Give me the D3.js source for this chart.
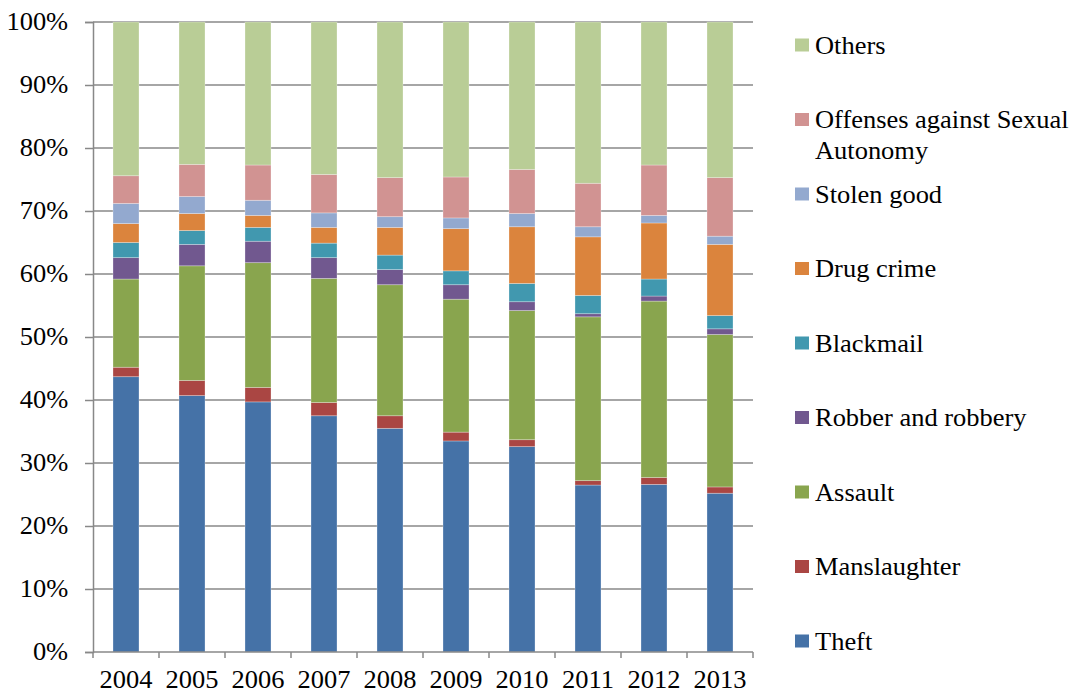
<!DOCTYPE html>
<html>
<head>
<meta charset="utf-8">
<script src="https://cdn.jsdelivr.net/npm/d3@7"></script>
<style>
  html, body { margin: 0; padding: 0; background: #fff; }
  svg text { font-family: "Liberation Serif", "Times New Roman", serif; fill: #000; }
</style>
</head>
<body>
<svg id="chart" width="1075" height="695"></svg>
<script>
// Share of criminal cases by offense type, per year (percent)
const years = ["2004","2005","2006","2007","2008","2009","2010","2011","2012","2013"];
const seriesNames = ["Theft","Manslaughter","Assault","Robber and robbery","Blackmail","Drug crime","Stolen good","Offenses against Sexual Autonomy","Others"];
const seriesColors = ["#4572A7","#AA4643","#89A54E","#71588F","#4198AF","#DB843D","#93A9CF","#D19392","#B9CD96"];

const theft        = [43.7, 40.7, 39.7, 37.5, 35.5, 33.5, 32.6, 26.5, 26.6, 25.2];
const manslaughter = [ 1.5,  2.4,  2.3,  2.1,  2.0,  1.4,  1.1,  0.7,  1.1,  1.0];
const assault      = [14.0, 18.2, 19.8, 19.7, 20.8, 21.1, 20.5, 26.0, 28.0, 24.2];
const robbery      = [ 3.4,  3.4,  3.4,  3.3,  2.4,  2.3,  1.4,  0.5,  0.8,  0.9];
const blackmail    = [ 2.4,  2.2,  2.2,  2.3,  2.3,  2.2,  2.9,  2.9,  2.7,  2.1];
const drugCrime    = [ 3.0,  2.7,  1.9,  2.5,  4.4,  6.7,  9.0,  9.3,  8.9, 11.3];
const stolenGood   = [ 3.2,  2.7,  2.4,  2.3,  1.7,  1.7,  2.1,  1.6,  1.2,  1.3];
const sexualOffense= [ 4.4,  5.1,  5.6,  6.1,  6.2,  6.5,  7.0,  6.9,  8.0,  9.3];
const others       = [24.4, 22.6, 22.7, 24.2, 24.7, 24.6, 23.4, 25.6, 22.7, 24.7];

const yTicks = [0,10,20,30,40,50,60,70,80,90,100];

const seriesValues = [theft, manslaughter, assault, robbery, blackmail, drugCrime, stolenGood, sexualOffense, others];

// rows for d3.stack, normalised to 100%
const rows = years.map((yr, i) => {
  const row = { year: yr };
  let total = 0;
  seriesValues.forEach(v => total += v[i]);
  seriesNames.forEach((n, k) => row[n] = seriesValues[k][i] / total * 100);
  return row;
});

const svg = d3.select("#chart");
const plotLeft = 93, plotRight = 753, plotTop = 22, plotBottom = 652;
const fontSize = 24.5, stretch = 1.08;   // slightly widened serif text
const serif = "'Liberation Serif', 'Times New Roman', serif";

const x = d3.scaleBand().domain(years).range([plotLeft, plotRight]).paddingInner(0.606).paddingOuter(0.303);
const xOuter = d3.scaleBand().domain(years).range([plotLeft, plotRight]);
const y = d3.scaleLinear().domain([0, 100]).range([plotBottom, plotTop]);

// horizontal gridlines
svg.append("g").selectAll("line").data(yTicks.filter(t => t > 0)).join("line")
  .attr("x1", plotLeft).attr("x2", plotRight)
  .attr("y1", d => y(d)).attr("y2", d => y(d))
  .attr("stroke", "#888").attr("stroke-width", 1.5);

// stacked bars
const stacked = d3.stack().keys(seriesNames)(rows);
svg.append("g").selectAll("g").data(stacked).join("g")
  .attr("fill", (d, i) => seriesColors[i])
  .selectAll("rect").data(d => d).join("rect")
  .attr("x", d => x(d.data.year))
  .attr("width", x.bandwidth())
  .attr("y", d => y(d[1]))
  .attr("height", d => y(d[0]) - y(d[1]))
  .attr("stroke", "rgba(255,255,255,0.35)")
  .attr("stroke-width", 0.8);

// y axis
const yAxis = svg.append("g").attr("transform", `translate(${plotLeft},0)`)
  .call(d3.axisLeft(y).tickValues(yTicks).tickSize(8).tickFormat(d => d + "%").tickPadding(15));
yAxis.attr("font-family", serif).attr("font-size", fontSize);
yAxis.select(".domain").attr("stroke", "#888").attr("stroke-width", 1.5);
yAxis.selectAll(".tick line").attr("stroke", "#888").attr("stroke-width", 1.5);
yAxis.selectAll(".tick text").attr("fill", "#000").attr("transform", `scale(${stretch},1)`);

// x axis line and category boundary ticks
svg.append("line").attr("x1", plotLeft).attr("x2", plotRight).attr("y1", plotBottom).attr("y2", plotBottom)
  .attr("stroke", "#888").attr("stroke-width", 1.5);
const boundaries = years.map(yv => xOuter(yv)).concat([plotRight]);
svg.append("g").selectAll("line").data(boundaries).join("line")
  .attr("x1", d => d).attr("x2", d => d)
  .attr("y1", plotBottom).attr("y2", plotBottom + 6)
  .attr("stroke", "#888").attr("stroke-width", 1.5);
svg.append("g").selectAll("text").data(years).join("text")
  .attr("transform", d => `translate(${x(d) + x.bandwidth() / 2},688) scale(${stretch},1)`)
  .attr("text-anchor", "middle")
  .attr("font-family", serif)
  .attr("font-size", fontSize)
  .text(d => d);

// legend, top to bottom in reverse stacking order
const legendItems = seriesNames.map((n, i) => ({ name: n, color: seriesColors[i] })).reverse();
const legendLines = {
  "Offenses against Sexual Autonomy": ["Offenses against Sexual", "Autonomy"]
};
const legend = svg.append("g");
legendItems.forEach((item, i) => {
  const cy = 45 + i * 74.5;
  legend.append("rect")
    .attr("x", 795).attr("y", cy - 6.5).attr("width", 14).attr("height", 13)
    .attr("fill", item.color);
  const lines = legendLines[item.name] || [item.name];
  const t = legend.append("text")
    .attr("transform", `translate(815,${cy}) scale(${stretch},1)`)
    .attr("font-family", serif)
    .attr("font-size", fontSize);
  lines.forEach((ln, j) => {
    t.append("tspan").attr("x", 0).attr("dy", j === 0 ? "0.35em" : "1.26em").text(ln);
  });
});
</script>
</body>
</html>
